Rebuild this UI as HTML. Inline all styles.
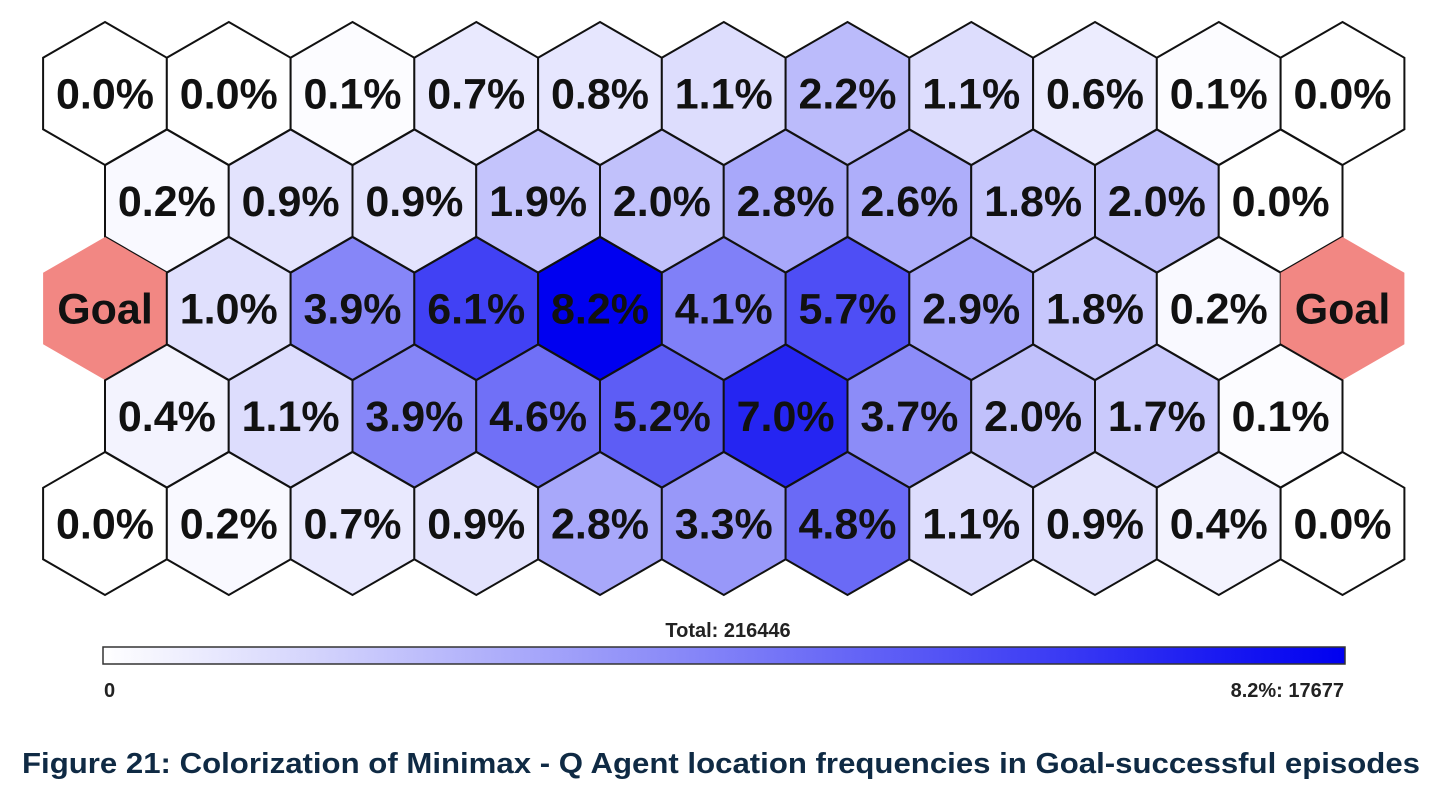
<!DOCTYPE html>
<html><head><meta charset="utf-8"><style>
body{margin:0;background:#fff;}
svg{display:block;font-family:"Liberation Sans",Arial,sans-serif;}
</style></head><body>
<svg id="chart" width="1450" height="803" viewBox="0 0 1450 803">
<defs><linearGradient id="cb" x1="0" x2="1" y1="0" y2="0"><stop offset="0" stop-color="#ffffff"/><stop offset="1" stop-color="#0000f0"/></linearGradient></defs>
<g id="hexes"></g>
<text x="728" y="637" text-anchor="middle" font-size="20" font-weight="bold" fill="#222">Total: 216446</text>
<rect x="103" y="647" width="1242" height="17" fill="url(#cb)" stroke="#333" stroke-width="1.5"/>
<text x="104" y="697" font-size="20" font-weight="bold" fill="#222">0</text>
<text x="1344" y="697" text-anchor="end" font-size="20" font-weight="bold" fill="#222">8.2%: 17677</text>
<text x="22" y="773" font-size="29" font-weight="bold" fill="#0f2a44" textLength="1398" lengthAdjust="spacingAndGlyphs">Figure 21: Colorization of Minimax - Q Agent location frequencies in Goal-successful episodes</text>
</svg>
<script>
const row1 = [0.0,0.0,0.1,0.7,0.8,1.1,2.2,1.1,0.6,0.1,0.0];
const row2 = [0.2,0.9,0.9,1.9,2.0,2.8,2.6,1.8,2.0,0.0];
const row3 = ['Goal',1.0,3.9,6.1,8.2,4.1,5.7,2.9,1.8,0.2,'Goal'];
const row4 = [0.4,1.1,3.9,4.6,5.2,7.0,3.7,2.0,1.7,0.1];
const row5 = [0.0,0.2,0.7,0.9,2.8,3.3,4.8,1.1,0.9,0.4,0.0];
const maxValue = 8.2;
const rows = [row1,row2,row3,row4,row5];
const NS='http://www.w3.org/2000/svg';
const g=document.getElementById('hexes');
const x0=105, dx=123.75, y0=93.5, r=71.5, dy=107.5;
function color(v){const t=Math.max(0,Math.min(1,v/maxValue));const c=Math.round(255*(1-t));const b=Math.round(255-15*t);return `rgb(${c},${c},${b})`;}
rows.forEach((row,ri)=>{
  const off = row.length===10 ? dx/2 : 0;
  row.forEach((v,ci)=>{
    const cx=x0+off+ci*dx, cy=y0+ri*dy;
    const pts=[];
    for(let k=0;k<6;k++){const a=Math.PI/180*(60*k-90);pts.push((cx+r*Math.cos(a)).toFixed(1)+','+(cy+r*Math.sin(a)).toFixed(1));}
    const p=document.createElementNS(NS,'polygon');
    p.setAttribute('points',pts.join(' '));
    const goal = v==='Goal';
    p.setAttribute('fill', goal ? '#f28783' : color(v));
    p.setAttribute('stroke', goal ? 'none' : '#111');
    p.setAttribute('stroke-width','2');
    
    
    g.appendChild(p);
  });
});
rows.forEach((row,ri)=>{
  const off = row.length===10 ? dx/2 : 0;
  row.forEach((v,ci)=>{
    const cx=x0+off+ci*dx, cy=y0+ri*dy;
    const t=document.createElementNS(NS,'text');
    t.setAttribute('x',cx);
    t.setAttribute('y',cy+15);
    t.setAttribute('text-anchor','middle');
    t.setAttribute('font-size','43');
    t.setAttribute('font-weight','bold');
    t.setAttribute('fill','#111');
    t.textContent = v==='Goal' ? 'Goal' : v.toFixed(1)+'%';
    
    
    g.appendChild(t);
  });
});
</script>
</body></html>
